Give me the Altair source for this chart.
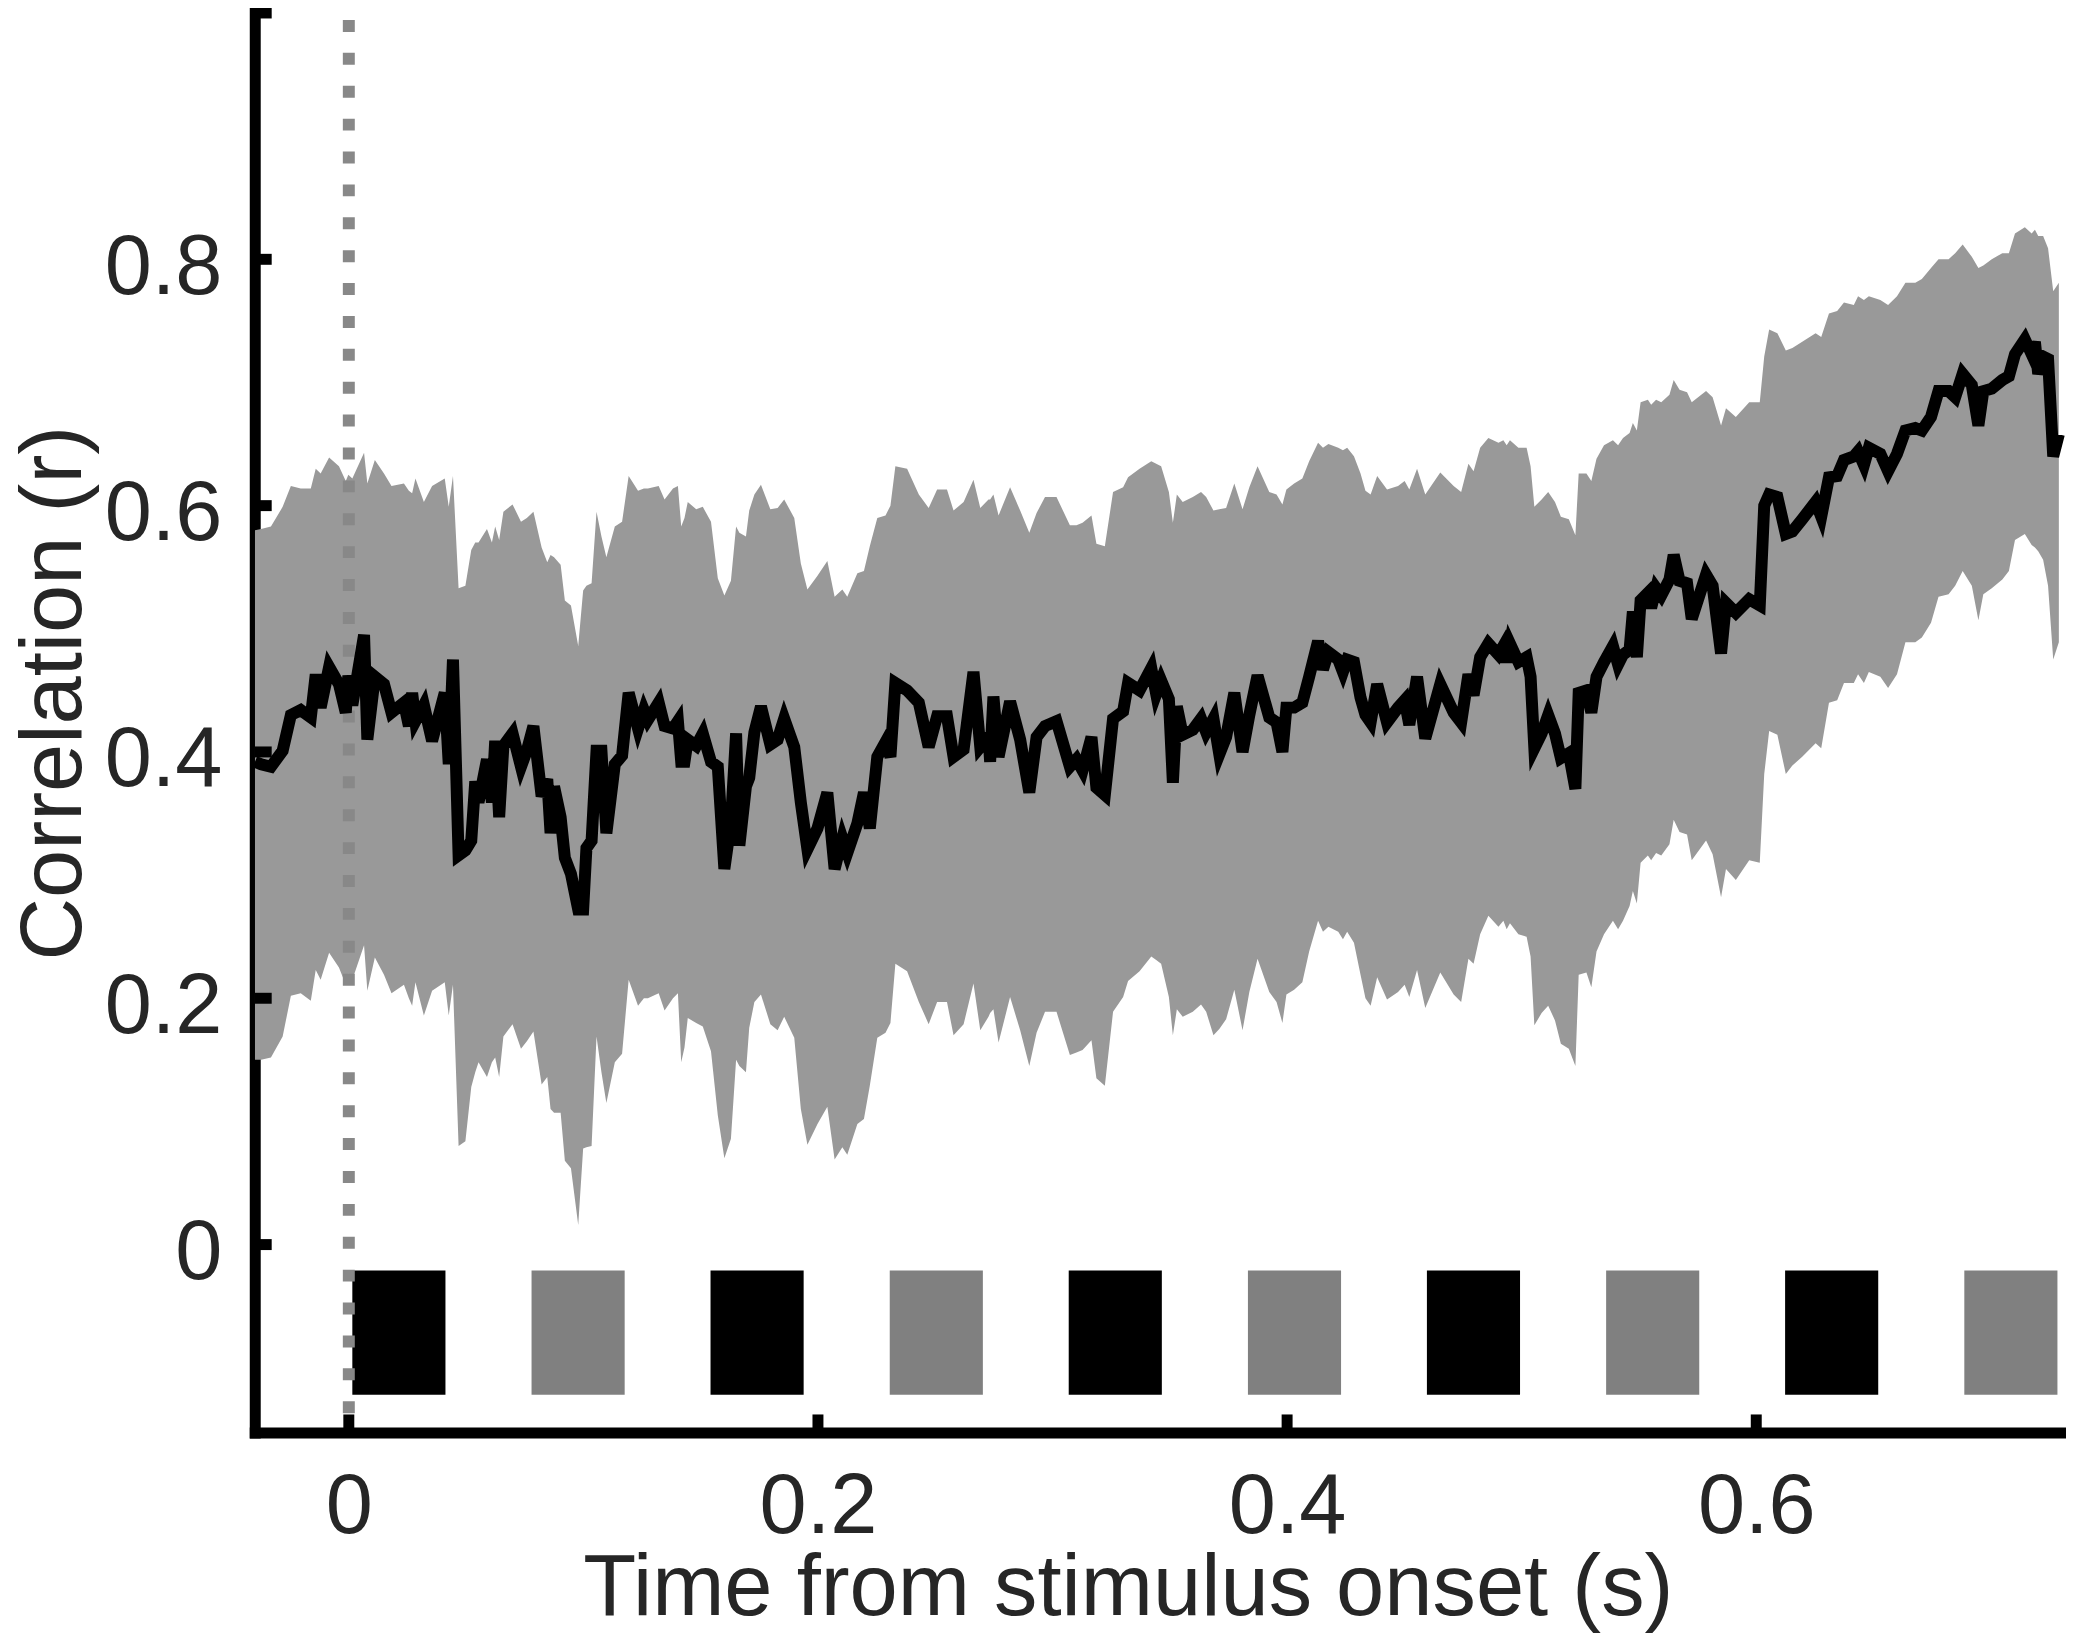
import altair as alt
import pandas as pd

# ---- data ----
time_s = [
    -0.0400, -0.0374, -0.0332, -0.0282, -0.0247, -0.0205, -0.0162, -0.0141, -0.0120, -0.0084,
    -0.0042, -0.0013, -0.0002, 0.0015, 0.0065, 0.0079, 0.0111, 0.0150, 0.0182, 0.0235,
    0.0256, 0.0270, 0.0284, 0.0320, 0.0355, 0.0409, 0.0426, 0.0444, 0.0468, 0.0497,
    0.0522, 0.0539, 0.0553, 0.0589, 0.0610, 0.0624, 0.0641, 0.0659, 0.0698, 0.0734,
    0.0759, 0.0787, 0.0822, 0.0846, 0.0860, 0.0875, 0.0903, 0.0921, 0.0947, 0.0978,
    0.0999, 0.1013, 0.1035, 0.1056, 0.1077, 0.1098, 0.1134, 0.1165, 0.1193, 0.1233,
    0.1258, 0.1275, 0.1321, 0.1346, 0.1382, 0.1403, 0.1417, 0.1431, 0.1445, 0.1481,
    0.1509, 0.1544, 0.1573, 0.1601, 0.1629, 0.1651, 0.1665, 0.1693,
    0.1707, 0.1729, 0.1757, 0.1797, 0.1828, 0.1856, 0.1899, 0.1927, 0.1955, 0.1998,
    0.2040, 0.2071, 0.2104, 0.2125, 0.2168, 0.2196, 0.2221, 0.2253, 0.2288, 0.2309,
    0.2330, 0.2380, 0.2430, 0.2472, 0.2508, 0.2550, 0.2578, 0.2621, 0.2663, 0.2692,
    0.2727, 0.2734, 0.2748, 0.2770, 0.2819, 0.2862, 0.2901, 0.2932, 0.2968, 0.3017,
    0.3074, 0.3102, 0.3128, 0.3166, 0.3187, 0.3223, 0.3258, 0.3301, 0.3322, 0.3371,
    0.3421, 0.3442, 0.3463, 0.3496, 0.3513, 0.3530, 0.3555, 0.3598, 0.3633, 0.3655,
    0.3686, 0.3711, 0.3740,
    0.3775, 0.3810, 0.3839, 0.3874, 0.3924, 0.3955, 0.3980, 0.3997, 0.4030, 0.4065,
    0.4094, 0.4132, 0.4153, 0.4176, 0.4218, 0.4238, 0.4256, 0.4285, 0.4313, 0.4334,
    0.4356, 0.4384, 0.4426, 0.4473, 0.4501, 0.4521, 0.4554, 0.4589, 0.4653, 0.4710,
    0.4742, 0.4773, 0.4795, 0.4823, 0.4858, 0.4901, 0.4922, 0.4936, 0.4950, 0.4986,
    0.5021, 0.5038, 0.5054, 0.5085, 0.5113, 0.5142, 0.5167, 0.5201, 0.5229, 0.5243,
    0.5276, 0.5297, 0.5319, 0.5351, 0.5389, 0.5411, 0.5432, 0.5460, 0.5474, 0.5491,
    0.5507, 0.5538, 0.5552, 0.5573, 0.5595, 0.5630, 0.5648, 0.5673, 0.5705, 0.5725,
    0.5786, 0.5814, 0.5850, 0.5871, 0.5913, 0.5970, 0.6015, 0.6034, 0.6055, 0.6090,
    0.6126, 0.6154, 0.6196, 0.6253, 0.6277, 0.6310, 0.6345, 0.6374, 0.6416, 0.6434,
    0.6459, 0.6480, 0.6529, 0.6562, 0.6600, 0.6636, 0.6678, 0.6706, 0.6745, 0.6777,
    0.6820, 0.6848, 0.6880, 0.6919, 0.6947, 0.6968, 0.7004, 0.7049, 0.7077, 0.7103,
    0.7145, 0.7174, 0.7188, 0.7202, 0.7223, 0.7244, 0.7266, 0.7290,
]

mean_r = [
    0.392, 0.390, 0.388, 0.401, 0.430, 0.434, 0.428, 0.463, 0.436, 0.469,
    0.455, 0.432, 0.462, 0.438, 0.495, 0.410, 0.461, 0.455, 0.432, 0.440,
    0.421, 0.448, 0.425, 0.438, 0.409, 0.448, 0.390, 0.475, 0.316, 0.320,
    0.328, 0.376, 0.359, 0.394, 0.359, 0.409, 0.347, 0.405, 0.415, 0.388,
    0.401, 0.421, 0.364, 0.378, 0.334, 0.372, 0.347, 0.314, 0.301, 0.272,
    0.272, 0.322, 0.328, 0.401, 0.401, 0.334, 0.390, 0.397, 0.448, 0.419,
    0.434, 0.426, 0.440, 0.421, 0.419, 0.425, 0.392, 0.392, 0.410, 0.405,
    0.415, 0.392, 0.388, 0.305, 0.343, 0.415, 0.324, 0.372,
    0.379, 0.416, 0.437, 0.406, 0.410, 0.427, 0.404, 0.359, 0.321, 0.338,
    0.367, 0.305, 0.330, 0.318, 0.342, 0.367, 0.338, 0.396, 0.408, 0.396,
    0.456, 0.450, 0.440, 0.404, 0.429, 0.429, 0.396, 0.402, 0.465, 0.404,
    0.412, 0.392, 0.445, 0.396, 0.441, 0.410, 0.367, 0.412, 0.421, 0.425,
    0.388, 0.394, 0.385, 0.412, 0.371, 0.365, 0.427, 0.433, 0.456, 0.450,
    0.468, 0.447, 0.458, 0.443, 0.375, 0.437, 0.414, 0.418, 0.427, 0.416,
    0.427, 0.398, 0.412,
    0.448, 0.400, 0.430, 0.462, 0.428, 0.424, 0.400, 0.436, 0.436, 0.440,
    0.461, 0.490, 0.467, 0.481, 0.475, 0.465, 0.475, 0.473, 0.444, 0.430,
    0.424, 0.455, 0.424, 0.436, 0.442, 0.422, 0.461, 0.411, 0.455, 0.432,
    0.424, 0.463, 0.446, 0.477, 0.488, 0.479, 0.486, 0.473, 0.488, 0.473,
    0.477, 0.461, 0.403, 0.415, 0.430, 0.415, 0.395, 0.399, 0.370, 0.448,
    0.450, 0.432, 0.461, 0.473, 0.486, 0.471, 0.479, 0.483, 0.514, 0.477,
    0.523, 0.529, 0.517, 0.533, 0.527, 0.540, 0.560, 0.539, 0.537, 0.508,
    0.544, 0.535, 0.480, 0.521, 0.513, 0.524, 0.519, 0.600, 0.609, 0.607,
    0.577, 0.579, 0.589, 0.603, 0.591, 0.623, 0.624, 0.637, 0.640, 0.644,
    0.633, 0.647, 0.642, 0.628, 0.642, 0.661, 0.663, 0.661, 0.672, 0.693,
    0.693, 0.688, 0.707, 0.698, 0.665, 0.693, 0.695, 0.702, 0.705, 0.723,
    0.735, 0.723, 0.733, 0.707, 0.721, 0.719, 0.640, 0.658,
]

upper_r = [
    0.580, 0.581, 0.583, 0.599, 0.616, 0.614, 0.614, 0.630, 0.626, 0.639,
    0.632, 0.620, 0.625, 0.622, 0.643, 0.618, 0.637, 0.626, 0.616, 0.618,
    0.612, 0.610, 0.622, 0.603, 0.616, 0.622, 0.599, 0.624, 0.533, 0.535,
    0.564, 0.570, 0.570, 0.581, 0.570, 0.583, 0.572, 0.595, 0.601, 0.587,
    0.590, 0.595, 0.566, 0.554, 0.560, 0.558, 0.552, 0.523, 0.519, 0.486,
    0.531, 0.535, 0.537, 0.595, 0.575, 0.558, 0.583, 0.587, 0.624, 0.612,
    0.614, 0.614, 0.616, 0.605, 0.614, 0.616, 0.583, 0.590, 0.603, 0.597,
    0.599, 0.587, 0.541, 0.527, 0.539, 0.583, 0.578, 0.575,
    0.596, 0.609, 0.617, 0.597, 0.598, 0.605, 0.590, 0.553, 0.532, 0.543,
    0.555, 0.526, 0.532, 0.526, 0.545, 0.547, 0.567, 0.590, 0.592, 0.600,
    0.632, 0.630, 0.609, 0.598, 0.613, 0.613, 0.596, 0.603, 0.621, 0.598,
    0.605, 0.605, 0.609, 0.592, 0.615, 0.596, 0.578, 0.594, 0.607, 0.607,
    0.584, 0.584, 0.586, 0.592, 0.569, 0.567, 0.611, 0.615, 0.623, 0.630,
    0.636, 0.634, 0.632, 0.611, 0.586, 0.609, 0.603, 0.607, 0.611, 0.607,
    0.596, 0.597, 0.598,
    0.618, 0.597, 0.615, 0.632, 0.611, 0.609, 0.601, 0.613, 0.618, 0.622,
    0.636, 0.651, 0.647, 0.650, 0.647, 0.645, 0.647, 0.640, 0.626, 0.612,
    0.609, 0.624, 0.613, 0.616, 0.620, 0.613, 0.630, 0.609, 0.627, 0.616,
    0.611, 0.634, 0.628, 0.647, 0.655, 0.651, 0.653, 0.649, 0.653, 0.647,
    0.647, 0.632, 0.599, 0.605, 0.611, 0.603, 0.591, 0.589, 0.576, 0.626,
    0.626, 0.620, 0.638, 0.649, 0.653, 0.649, 0.655, 0.659, 0.667, 0.661,
    0.684, 0.686, 0.682, 0.686, 0.684, 0.690, 0.702, 0.694, 0.692, 0.684,
    0.693, 0.688, 0.665, 0.679, 0.672, 0.684, 0.684, 0.721, 0.743, 0.740,
    0.726, 0.728, 0.733, 0.740, 0.737, 0.756, 0.758, 0.765, 0.763, 0.770,
    0.767, 0.770, 0.767, 0.763, 0.770, 0.781, 0.781, 0.784, 0.793, 0.800,
    0.800, 0.805, 0.812, 0.802, 0.793, 0.795, 0.800, 0.805, 0.805, 0.821,
    0.826, 0.821, 0.824, 0.819, 0.819, 0.809, 0.774, 0.781,
]

lower_r = [
    0.150, 0.150, 0.152, 0.169, 0.202, 0.204, 0.198, 0.223, 0.215, 0.237,
    0.225, 0.211, 0.220, 0.215, 0.243, 0.206, 0.233, 0.219, 0.204, 0.211,
    0.200, 0.194, 0.213, 0.186, 0.206, 0.213, 0.186, 0.211, 0.080, 0.084,
    0.128, 0.140, 0.148, 0.136, 0.148, 0.152, 0.136, 0.169, 0.179, 0.159,
    0.165, 0.173, 0.130, 0.136, 0.110, 0.107, 0.107, 0.068, 0.062, 0.016,
    0.078, 0.079, 0.080, 0.169, 0.140, 0.115, 0.148, 0.155, 0.215, 0.194,
    0.200, 0.200, 0.204, 0.190, 0.200, 0.204, 0.148, 0.160, 0.184, 0.180,
    0.177, 0.157, 0.105, 0.070, 0.086, 0.150, 0.145, 0.140,
    0.176, 0.197, 0.203, 0.179, 0.174, 0.185, 0.168, 0.110, 0.081, 0.098,
    0.112, 0.069, 0.079, 0.073, 0.098, 0.102, 0.129, 0.168, 0.172, 0.180,
    0.228, 0.222, 0.197, 0.179, 0.197, 0.197, 0.170, 0.179, 0.212, 0.174,
    0.185, 0.188, 0.191, 0.164, 0.201, 0.174, 0.145, 0.172, 0.189, 0.189,
    0.154, 0.156, 0.158, 0.166, 0.135, 0.129, 0.189, 0.201, 0.214, 0.222,
    0.234, 0.231, 0.228, 0.201, 0.170, 0.191, 0.185, 0.189, 0.195, 0.189,
    0.170, 0.175, 0.183,
    0.207, 0.174, 0.205, 0.232, 0.205, 0.197, 0.180, 0.203, 0.207, 0.213,
    0.238, 0.263, 0.254, 0.258, 0.254, 0.248, 0.254, 0.245, 0.219, 0.200,
    0.194, 0.217, 0.199, 0.205, 0.211, 0.201, 0.223, 0.192, 0.221, 0.203,
    0.197, 0.232, 0.228, 0.252, 0.267, 0.258, 0.263, 0.256, 0.261, 0.252,
    0.250, 0.234, 0.178, 0.188, 0.194, 0.182, 0.163, 0.159, 0.145, 0.219,
    0.221, 0.209, 0.238, 0.252, 0.263, 0.256, 0.263, 0.275, 0.287, 0.277,
    0.310, 0.316, 0.312, 0.318, 0.316, 0.325, 0.345, 0.335, 0.333, 0.312,
    0.328, 0.317, 0.282, 0.305, 0.296, 0.312, 0.310, 0.382, 0.417, 0.414,
    0.382, 0.389, 0.396, 0.407, 0.403, 0.440, 0.442, 0.456, 0.456, 0.463,
    0.456, 0.465, 0.461, 0.452, 0.463, 0.489, 0.489, 0.493, 0.505, 0.526,
    0.528, 0.535, 0.547, 0.535, 0.507, 0.528, 0.533, 0.540, 0.547, 0.572,
    0.577, 0.568, 0.566, 0.563, 0.556, 0.535, 0.475, 0.489,
]

# stimulus frames (black / gray)
stim_start = [0.0015, 0.0779, 0.1542, 0.2306, 0.3069, 0.3833, 0.4596, 0.5360, 0.6123, 0.6887]
stim_end = [0.0412, 0.1176, 0.1939, 0.2703, 0.3466, 0.4230, 0.4993, 0.5757, 0.6520, 0.7284]
stim_kind = ["black", "gray", "black", "gray", "black", "gray", "black", "gray", "black", "gray"]
stim_top = -0.021
stim_bottom = -0.122

x_tick_values = [0, 0.2, 0.4, 0.6]
y_label_values = [0, 0.2, 0.4, 0.6, 0.8]
y_tick_values = [0, 0.2, 0.4, 0.6, 0.8, 1.0]
onset_time = [0.0]

x_domain = [-0.0401, 0.7295]
y_domain = [-0.1525, 1.0]

# ---- layout / style ----
W = 1811.5
H = 1424.3
FONT = "Liberation Sans"
TEXT = "#262626"

df = pd.DataFrame({"t": time_s, "mean": mean_r, "upper": upper_r, "lower": lower_r})
stim = pd.DataFrame({
    "start": stim_start,
    "end": stim_end,
    "kind": stim_kind,
    "top": [stim_top] * len(stim_start),
    "bottom": [stim_bottom] * len(stim_start),
})
onset_df = pd.DataFrame({"t": onset_time})
yt_df = pd.DataFrame({"v": y_tick_values})
xt_df = pd.DataFrame({"t": x_tick_values})

xs = alt.Scale(domain=x_domain, nice=False, zero=False)
ys = alt.Scale(domain=y_domain, nice=False, zero=False)

label_expr = "datum.value == 0 ? '0' : format(datum.value, '.1f')"

x_axis = alt.Axis(
    values=x_tick_values, labelExpr=label_expr,
    title="Time from stimulus onset (s)",
    titleX=876, titleY=183, titleAlign="center", titleBaseline="alphabetic",
    titleFont=FONT, titleFontSize=87, titleFontWeight="normal", titleColor=TEXT,
    labelFont=FONT, labelFontSize=85, labelColor=TEXT,
    labelBaseline="alphabetic", labelPadding=100, labelFlush=False,
    ticks=False, tickSize=0, grid=False,
    domainColor="black", domainWidth=11, domainCap="square",
)
y_axis = alt.Axis(
    values=y_label_values, labelExpr=label_expr,
    title="Correlation (r)",
    titleX=-175, titleY=682, titleAngle=270, titleAlign="center",
    titleBaseline="alphabetic",
    titleFont=FONT, titleFontSize=87, titleFontWeight="normal", titleColor=TEXT,
    labelFont=FONT, labelFontSize=85, labelColor=TEXT,
    labelBaseline="alphabetic", labelAlign="right",
    labelPadding=33, labelOffset=34, labelFlush=False,
    ticks=False, tickSize=0, grid=False,
    domainColor="black", domainWidth=11, domainCap="square",
)

X = lambda f: alt.X(f, scale=xs, axis=x_axis)
Y = lambda f: alt.Y(f, scale=ys, axis=y_axis)

band = alt.Chart(df).mark_area(color="#999999", opacity=1).encode(
    x=X("t:Q"), y=Y("upper:Q"), y2="lower:Q",
)

bars = alt.Chart(stim).mark_rect().encode(
    x=X("start:Q"), x2="end:Q",
    y=Y("top:Q"), y2="bottom:Q",
    color=alt.Color("kind:N", scale=alt.Scale(domain=["black", "gray"],
                                              range=["#000000", "#808080"]), legend=None),
)

onset = alt.Chart(onset_df).mark_rule(
    color="#888888", strokeWidth=12, strokeDash=[12, 21], strokeDashOffset=26
).encode(
    x=X("t:Q"), y=alt.value(0), y2=alt.value(H),
)

line = alt.Chart(df).mark_line(color="black", strokeWidth=12).encode(
    x=X("t:Q"), y=Y("mean:Q"),
)

y_ticks = alt.Chart(yt_df).mark_rule(color="black", strokeWidth=11).encode(
    y=Y("v:Q"), x=alt.value(0), x2=alt.value(17),
)

x_ticks = alt.Chart(xt_df).mark_rule(color="black", strokeWidth=11).encode(
    x=X("t:Q"), y=alt.value(H), y2=alt.value(H - 18),
)

chart = alt.layer(band, bars, onset, line, y_ticks, x_ticks).properties(
    width=W, height=H,
    autosize=alt.AutoSizeParams(type="none"),
    padding={"left": 247.6, "top": 2.2, "right": 7, "bottom": 203},
    background="white",
).configure_view(stroke=None)

chart.save("out.html", embed_options={"renderer": "svg", "actions": False})
